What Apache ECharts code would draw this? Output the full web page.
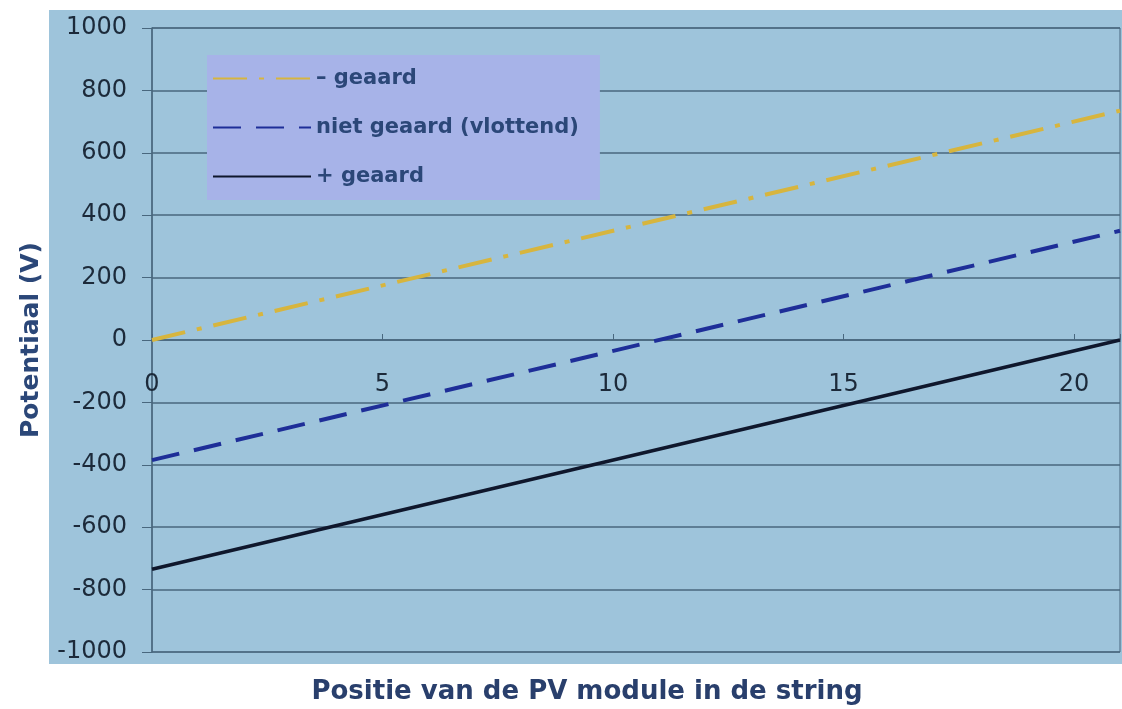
<!DOCTYPE html>
<html><head><meta charset="utf-8">
<script src="https://cdn.jsdelivr.net/npm/echarts@6/dist/echarts.min.js"></script>
<style>html,body{margin:0;padding:0;background:#fff}#c{width:1122px;height:709px}</style>
</head><body><div id="c"></div>
<script>
const seriesNames = ['\u2013 geaard', 'niet geaard (vlottend)', '+ geaard'];
const positions = [0, 21];
const minGeaard = [0, 735];
const nietGeaard = [-385, 350];
const plusGeaard = [-735, 0];
const yTicks = [-1000, -800, -600, -400, -200, 0, 200, 400, 600, 800, 1000];

const toPts = v => positions.map((x, i) => [x, v[i]]);
const chart = echarts.init(document.getElementById('c'));
const textCol = '#2b4778';
const font = 'DejaVu Sans';
chart.setOption({
  animation: false,
  graphic: [{type: 'rect', left: 49, top: 10, shape: {width: 1073, height: 654}, style: {fill: '#9ec4db'}, z: -10}],
  title: {text: 'Positie van de PV module in de string', left: 582, textAlign: 'center', top: 674,
    textStyle: {fontFamily: font, fontSize: 26, fontWeight: 'bold', color: '#293f6c'}},
  grid: {left: 152, right: 2, top: 28, bottom: 57, show: true, borderColor: '#48677e', borderWidth: 1, backgroundColor: 'transparent'},
  legend: {
    left: 207, top: 55, orient: 'vertical', backgroundColor: '#a7b3e8', padding: [13, 21, 13, 5],
    itemWidth: 98, itemHeight: 18, itemGap: 28,
    itemStyle: {opacity: 0},
    textStyle: {fontFamily: font, fontSize: 21, fontWeight: 'bold', color: textCol, width: 275},
    data: seriesNames
  },
  xAxis: [
    {type: 'value', min: 0, max: 21, interval: 5,
      axisLine: {onZero: true, lineStyle: {color: '#48677e', width: 1.5}},
      axisTick: {inside: true, length: 6, lineStyle: {color: '#48677e'}},
      axisLabel: {show: false},
      splitLine: {show: false}},
    {type: 'value', min: 0, max: 21, interval: 5, position: 'top', offset: -312,
      axisLine: {show: false}, axisTick: {show: false}, splitLine: {show: false},
      axisLabel: {inside: true, margin: 33, showMaxLabel: false, fontFamily: font, fontSize: 24, color: '#1c2a3a'}}
  ],
  yAxis: {type: 'value', min: -1000, max: 1000, interval: 200,
    name: 'Potentiaal (V)', nameLocation: 'middle', nameGap: 108, nameRotate: 90,
    nameTextStyle: {fontFamily: font, fontSize: 25, fontWeight: 'bold', color: textCol},
    axisLine: {show: true, lineStyle: {color: '#48677e', width: 1.5}},
    axisTick: {show: true, length: 10, lineStyle: {color: '#48677e'}},
    axisLabel: {margin: 25, fontFamily: font, fontSize: 24, color: '#1c2a3a',
      formatter: v => yTicks.includes(v) ? String(v) : ''},
    splitLine: {lineStyle: {color: '#48677e', width: 1.5}}},
  series: [
    {name: seriesNames[0], type: 'line', symbol: 'none', data: toPts(minGeaard),
      lineStyle: {color: '#d7b53e', width: 4, type: [34, 12, 5, 12]}, itemStyle: {color: '#d7b53e'}},
    {name: seriesNames[1], type: 'line', symbol: 'none', data: toPts(nietGeaard),
      lineStyle: {color: '#1e2e98', width: 4, type: [28, 15]}, itemStyle: {color: '#1e2e98'}},
    {name: seriesNames[2], type: 'line', symbol: 'none', data: toPts(plusGeaard),
      lineStyle: {color: '#0f172c', width: 3.5, type: 'solid'}, itemStyle: {color: '#0f172c'}}
  ]
});
</script></body></html>
